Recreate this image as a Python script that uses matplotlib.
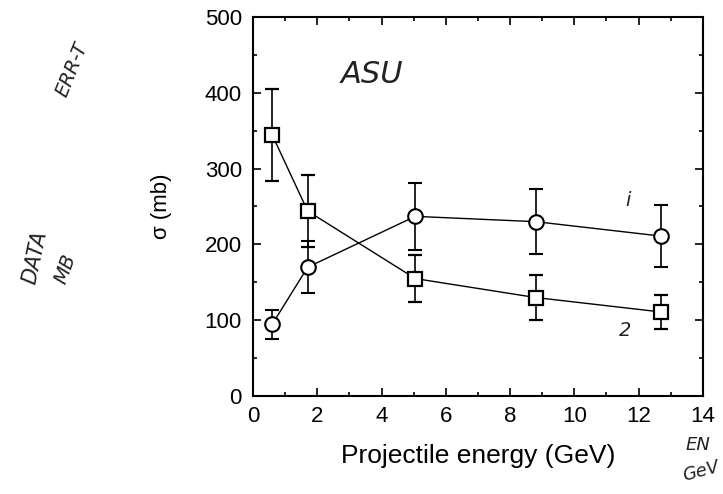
import matplotlib.pyplot as plt
from matplotlib.ticker import MultipleLocator

plt.rcParams['font.family'] = ['Liberation Sans', 'DejaVu Sans']

energy = [0.6, 1.7, 5.05, 8.8, 12.7]
sigma_1 = [95, 170, 237, 230, 211]
err_1 = [19, 34, 44, 43, 41]
sigma_2 = [344, 244, 155, 130, 111]
err_2 = [61, 48, 31, 30, 22]

fig = plt.figure(figsize=(7.23, 4.94), dpi=100)
ax = fig.add_axes([0.35, 0.198, 0.622, 0.768])

ax.errorbar(energy, sigma_1, yerr=err_1, fmt='-o', color='black', lw=1,
            mfc='white', mec='black', mew=1.5, ms=10.5, capsize=5, elinewidth=1.2,
            capthick=1.2, zorder=3)
ax.errorbar(energy, sigma_2, yerr=err_2, fmt='-s', color='black', lw=1,
            mfc='white', mec='black', mew=1.6, ms=9.5, capsize=5, elinewidth=1.2,
            capthick=1.2, zorder=3)

ax.set_xlim(0, 14)
ax.set_ylim(0, 500)
ax.xaxis.set_major_locator(MultipleLocator(2))
ax.xaxis.set_minor_locator(MultipleLocator(1))
ax.yaxis.set_major_locator(MultipleLocator(100))
ax.yaxis.set_minor_locator(MultipleLocator(50))
ax.tick_params(which='both', direction='in', top=True, right=True, width=1.2)
ax.tick_params(which='major', length=6, labelsize=16)
ax.tick_params(axis='y', which='major', pad=8)
ax.tick_params(axis='x', which='major', pad=7)
ax.tick_params(which='minor', length=3)
for s in ax.spines.values():
    s.set_linewidth(1.5)

ax.set_xlabel('Projectile energy (GeV)', fontsize=19)
ax.set_ylabel('σ (mb)', fontsize=16)
ax.xaxis.set_label_coords(0.5, -0.125)
ax.yaxis.set_label_coords(-0.18, 0.5)

# handwritten notes on the scanned page
hand = dict(color='#222222', fontstyle='italic', fontfamily='DejaVu Sans')
fig.text(0.10, 0.86, 'ERR-T', rotation=68, fontsize=14, ha='center', va='center', **hand)
fig.text(0.048, 0.48, 'DATA', rotation=78, fontsize=15, ha='center', va='center', **hand)
fig.text(0.09, 0.455, 'MB', rotation=70, fontsize=14, ha='center', va='center', **hand)
fig.text(0.515, 0.85, 'ASU', fontsize=22, ha='center', va='center', **hand)
fig.text(0.868, 0.595, 'i', fontsize=14, ha='center', va='center', **hand)
fig.text(0.865, 0.33, '2', fontsize=14, ha='center', va='center', **hand)
fig.text(0.965, 0.10, 'EN', fontsize=13, ha='center', va='center', **hand)
fig.text(0.97, 0.045, 'GeV', rotation=15, fontsize=13, ha='center', va='center', **hand)

fig.savefig('out.png', dpi=100)
